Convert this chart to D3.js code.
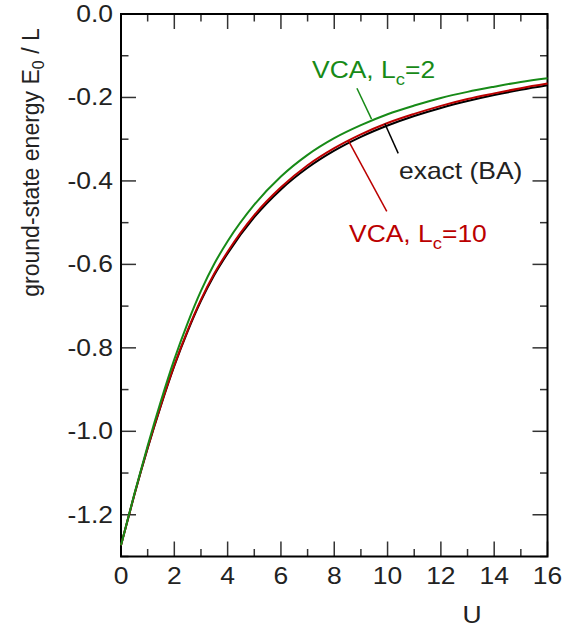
<!DOCTYPE html>
<meta charset="utf-8">
<script src="https://d3js.org/d3.v7.min.js"></script>
<style>
  body { margin: 0; background: #fff; }
  text { font-family: "Liberation Sans", Arial, sans-serif; }
</style>
<body>
<div id="chart"></div>
<script>
  // values
  const U = [0, 0.5, 1, 1.5, 2, 2.5, 3, 3.5, 4, 5, 6, 7, 8, 9, 10, 11, 12, 13, 14, 15, 16];
  const exactBA = [-1.2732, -1.1525, -1.0405, -0.9378, -0.8435, -0.7605, -0.6875, -0.6255, -0.5737, -0.4870,
                   -0.4204, -0.3685, -0.3275, -0.2944, -0.2672, -0.2444, -0.2251, -0.2086, -0.1942, -0.1817, -0.1707];
  const vcaLc2 = [-1.2732, -1.1505, -1.0345, -0.9268, -0.8275, -0.7405, -0.6635, -0.5985, -0.5447, -0.4570,
                  -0.3894, -0.3375, -0.2975, -0.2664, -0.2402, -0.2194, -0.2011, -0.1866, -0.1742, -0.1627, -0.1537];
  const vcaLc10 = [-1.2732, -1.1520, -1.0395, -0.9363, -0.8415, -0.7580, -0.6845, -0.6220, -0.5697, -0.4820,
                   -0.4154, -0.3625, -0.3215, -0.2884, -0.2612, -0.2394, -0.2201, -0.2036, -0.1902, -0.1777, -0.1667];
  const xTicks = [0, 2, 4, 6, 8, 10, 12, 14, 16];
  const yTicks = [0, -0.2, -0.4, -0.6, -0.8, -1.0, -1.2];
  const yTickLabels = ["0.0", "-0.2", "-0.4", "-0.6", "-0.8", "-1.0", "-1.2"];

  const W = 575, H = 633;
  const margin = {top: 14, left: 121, right: 27.5, bottom: 76.5};
  const width = W - margin.left - margin.right,
        height = H - margin.top - margin.bottom;
  const green = "#178a17", red = "#bb0000";
  const sx = 1.15; // glyphs in the figure are a bit wider than tall

  const svg = d3.select("#chart").append("svg")
      .attr("width", W).attr("height", H);

  const x = d3.scaleLinear().domain([0, 16]).range([margin.left, margin.left + width]);
  const y = d3.scaleLinear().domain([-1.3, 0]).range([margin.top + height, margin.top]);

  function label(g, px, py, anchor) {
    return g.append("text")
      .attr("transform", `translate(${px},${py}) scale(${sx},1)`)
      .attr("text-anchor", anchor)
      .style("font-size", "23px");
  }

  // ticks, pointing inwards on all four sides
  const ticks = svg.append("g").attr("stroke", "#333").attr("stroke-width", 1.5);
  d3.range(0, 17).forEach(u => {
    const len = u % 2 === 0 ? 15 : 7.5;
    ticks.append("line").attr("x1", x(u)).attr("x2", x(u)).attr("y1", y(-1.3)).attr("y2", y(-1.3) - len);
    ticks.append("line").attr("x1", x(u)).attr("x2", x(u)).attr("y1", y(0)).attr("y2", y(0) + len);
  });
  d3.range(0, 14).forEach(i => {
    const v = -i / 10, len = i % 2 === 0 ? 15 : 7.5;
    ticks.append("line").attr("y1", y(v)).attr("y2", y(v)).attr("x1", x(0)).attr("x2", x(0) + len);
    ticks.append("line").attr("y1", y(v)).attr("y2", y(v)).attr("x1", x(16)).attr("x2", x(16) - len);
  });

  // frame
  svg.append("rect")
    .attr("x", x(0)).attr("y", y(0))
    .attr("width", x(16) - x(0)).attr("height", y(-1.3) - y(0))
    .attr("fill", "none").attr("stroke", "#000").attr("stroke-width", 2);

  // tick labels
  const lab = svg.append("g").attr("fill", "#222");
  xTicks.forEach(t => label(lab, x(t), 584, "middle").text(t));
  yTicks.forEach((t, i) => label(lab, 113, y(t) + 8, "end").text(yTickLabels[i]));
  label(lab, 472, 623, "middle").text("U");

  const yt = lab.append("text")
    .attr("transform", `translate(39,${(28 + 297) / 2}) rotate(-90)`)
    .attr("text-anchor", "middle")
    .style("font-size", "23px");
  yt.append("tspan").text("ground-state energy E");
  yt.append("tspan").attr("dy", 5).style("font-size", "16px").text("0");
  yt.append("tspan").attr("dy", -5).text(" / L");

  // curves
  const line = d3.line().x(d => x(d[0])).y(d => y(d[1])).curve(d3.curveMonotoneX);
  const series = [
    {vals: exactBA, color: "#000"},
    {vals: vcaLc10, color: red},
    {vals: vcaLc2, color: green}
  ];
  svg.append("g").selectAll("path")
    .data(series)
    .join("path")
      .attr("fill", "none")
      .attr("stroke", d => d.color)
      .attr("stroke-width", 2)
      .attr("d", d => line(U.map((u, i) => [u, d.vals[i]])));

  // annotations
  const ann = svg.append("g").attr("stroke-width", 1.5);
  ann.append("line").attr("stroke", green)
    .attr("x1", x(8.85)).attr("y1", y(-0.178)).attr("x2", x(9.4)).attr("y2", y(-0.252));
  ann.append("line").attr("stroke", "#000")
    .attr("x1", x(10.4)).attr("y1", y(-0.334)).attr("x2", x(9.9)).attr("y2", y(-0.263));
  ann.append("line").attr("stroke", red)
    .attr("x1", x(8.52)).attr("y1", y(-0.302)).attr("x2", x(9.97)).attr("y2", y(-0.473));

  const t1 = label(svg, 312, 78, "start").attr("fill", green);
  t1.append("tspan").text("VCA, L");
  t1.append("tspan").attr("dy", 7).style("font-size", "16px").text("c");
  t1.append("tspan").attr("dy", -7).text("=2");

  label(svg, 399, 179, "start").attr("fill", "#222").text("exact (BA)");

  const t2 = label(svg, 349, 242, "start").attr("fill", red);
  t2.append("tspan").text("VCA, L");
  t2.append("tspan").attr("dy", 7).style("font-size", "16px").text("c");
  t2.append("tspan").attr("dy", -7).text("=10");
</script>
</body>
